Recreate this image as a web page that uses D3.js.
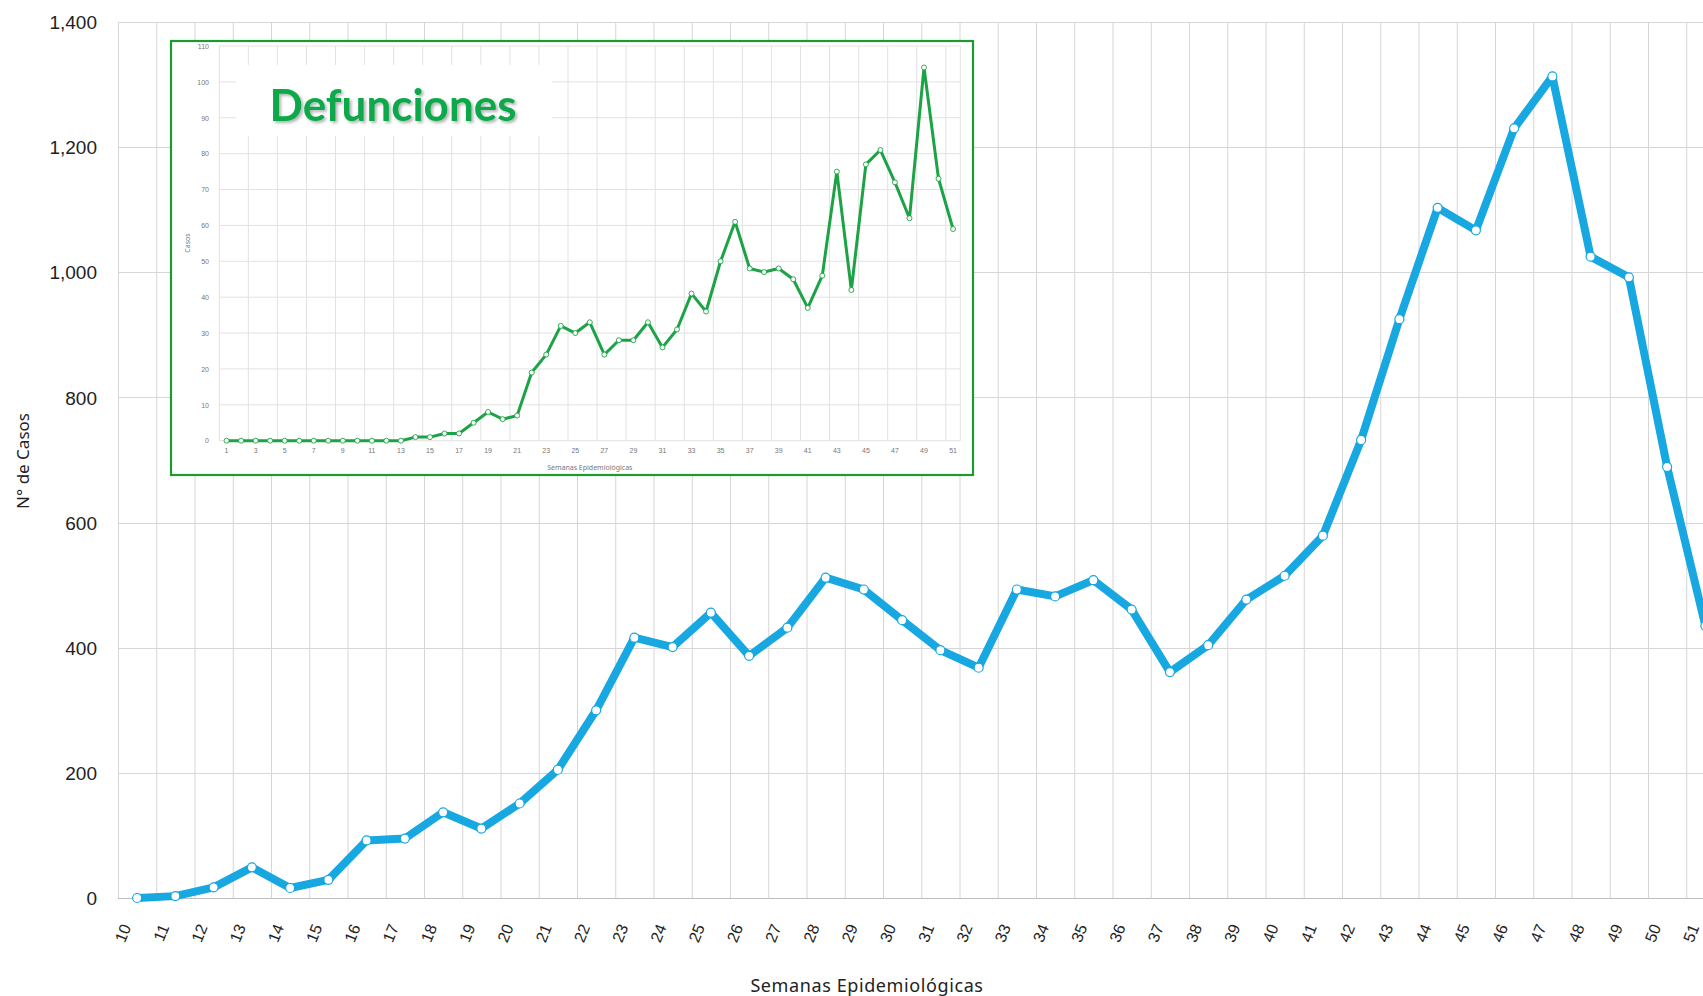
<!DOCTYPE html>
<html>
  <head>
    <meta charset="utf-8">
    <title>Casos y defunciones por semana epidemiológica</title>
    <script src="https://d3js.org/d3.v7.min.js"></script>
    <style>
      body { margin: 0; background: #fff; }
      svg { display: block; font-family: "Noto Sans", sans-serif; }
      .grid line { stroke: #d6d6d6; stroke-width: 1; }
      .mainTick { font-size: 19px; fill: #222; }
      .insetTick { font-size: 7px; fill: #777; }
    </style>
  </head>
  <body>
    <svg id="chart" width="1703" height="996"></svg>
    <script>
      // main chart: cases per epidemiological week
      weeks = ["10", "11", "12", "13", "14", "15", "16", "17", "18", "19", "20", "21", "22", "23", "24", "25", "26", "27", "28", "29", "30",
        "31", "32", "33", "34", "35", "36", "37", "38", "39", "40", "41", "42", "43", "44", "45", "46", "47", "48", "49", "50", "51"];
      cases = [0, 3, 17, 49, 16, 29, 92, 95, 137, 111, 151, 205, 300, 416, 401, 456, 387, 432, 512, 493, 444,
        396, 368, 493, 482, 508, 461, 361, 404, 477, 515, 579, 732, 925, 1103, 1067, 1230, 1313, 1025, 992, 689, 435];
      caseTicks = [0, 200, 400, 600, 800, 1000, 1200, 1400];
      // inset: deaths
      deathWeeks = ["1", "2", "3", "4", "5", "6", "7", "8", "9", "10", "11", "12", "13", "14", "15", "16", "17", "18", "19", "20",
        "21", "22", "23", "24", "25", "26", "27", "28", "29", "30", "31", "32", "33", "34", "35", "36", "37", "38", "39", "40",
        "41", "42", "43", "44", "45", "46", "47", "48", "49", "50", "51"];
      deaths = [0, 0, 0, 0, 0, 0, 0, 0, 0, 0, 0, 0, 0, 1, 1, 2, 2, 5, 8, 6,
        7, 19, 24, 32, 30, 33, 24, 28, 28, 33, 26, 31, 41, 36, 50, 61, 48, 47, 48, 45,
        37, 46, 75, 42, 77, 81, 72, 62, 104, 73, 59];
      deathTicks = [0, 10, 20, 30, 40, 50, 60, 70, 80, 90, 100, 110];
      deathLabels = ["1", "3", "5", "7", "9", "11", "13", "15", "17", "19", "21", "23", "25", "27", "29", "31", "33", "35", "37", "39",
        "41", "43", "45", "47", "49", "51"];

      svg = d3.select("#chart");

      // ---- main chart ----
      x = d3.scaleBand()
        .domain(weeks)
        .range([118, 118 + 42 * 38.25]);
      y = d3.scaleLinear()
        .domain([0, 1400])
        .range([898, 22]);

      grid = svg.append("g").classed("grid", true);
      // vertical lines on category boundaries
      grid.selectAll(".v")
          .data(weeks)
        .enter().append("line")
          .attr("x1", function(d) { return x(d) + 0.5; })
          .attr("x2", function(d) { return x(d) + 0.5; })
          .attr("y1", y(1400))
          .attr("y2", y(0));
      grid.selectAll(".h")
          .data(caseTicks)
        .enter().append("line")
          .attr("x1", x.range()[0])
          .attr("x2", x.range()[1])
          .attr("y1", function(d) { return Math.round(y(d)) + 0.5; })
          .attr("y2", function(d) { return Math.round(y(d)) + 0.5; })
          .style("stroke", function(d) { return d == 0 ? "#bdbdbd" : null; });

      yAxis = svg.append("g")
        .attr("transform", "translate(100, 0)")
        .call(d3.axisLeft(y).tickValues(caseTicks).tickFormat(d3.format(",")).tickSize(0));
      yAxis.select(".domain").remove();
      yAxis.selectAll("text").classed("mainTick", true).attr("dy", "0.35em").attr("font-family", null).attr("font-size", null);

      xAxis = svg.append("g")
        .attr("transform", "translate(0, 925)")
        .call(d3.axisBottom(x).tickSize(0));
      xAxis.select(".domain").remove();
      xAxis.selectAll("text")
        .classed("mainTick", true)
        .attr("font-family", null).attr("font-size", null)
        .attr("y", 0)
        .attr("x", 0)
        .attr("dy", "0.35em")
        .style("text-anchor", "end")
        .style("font-size", "16px")
        .attr("transform", "translate(-11, 0) rotate(-68)");

      svg.append("text")
        .attr("x", 867)
        .attr("y", 992)
        .attr("text-anchor", "middle")
        .style("font-size", "18px")
        .style("letter-spacing", "0.6px")
        .style("fill", "#222")
        .text("Semanas Epidemiológicas");
      svg.append("text")
        .attr("transform", "translate(29, 461) rotate(-90)")
        .attr("text-anchor", "middle")
        .style("font-size", "17px")
        .style("fill", "#222")
        .text("N° de Casos");

      line = d3.line()
        .x(function(d, i) { return x(weeks[i]) + x.bandwidth() / 2; })
        .y(function(d) { return y(d); });
      svg.append("path")
        .datum(cases)
        .attr("d", line)
        .style("fill", "none")
        .style("stroke", "#17a7e1")
        .style("stroke-width", 8)
        .style("stroke-linejoin", "round");
      svg.selectAll(".casePoint")
          .data(cases)
        .enter().append("circle")
          .attr("cx", function(d, i) { return x(weeks[i]) + x.bandwidth() / 2; })
          .attr("cy", function(d) { return y(d); })
          .attr("r", 4.5)
          .style("fill", "#fff")
          .style("stroke", "#17a7e1")
          .style("stroke-width", 1.2);

      // ---- inset ----
      inset = svg.append("g");
      inset.append("rect")
        .attr("x", 171)
        .attr("y", 41)
        .attr("width", 802)
        .attr("height", 434)
        .style("fill", "#fff")
        .style("stroke", "#1c9a2e")
        .style("stroke-width", 2.2);

      ix = d3.scaleBand()
        .domain(deathWeeks)
        .range([219.3, 219.3 + 51 * 14.53]);
      iy = d3.scaleLinear()
        .domain([0, 110])
        .range([440.7, 46]);

      igrid = inset.append("g").classed("grid", true);
      igrid.selectAll(".v")
          .data(deathWeeks.filter(function(d, i) { return i % 2 == 0; }).concat(["end"]))
        .enter().append("line")
          .attr("x1", function(d) { return d == "end" ? ix.range()[1] : ix(d); })
          .attr("x2", function(d) { return d == "end" ? ix.range()[1] : ix(d); })
          .attr("y1", iy(110))
          .attr("y2", iy(0))
          .style("stroke", "#e2e2e2");
      igrid.selectAll(".h")
          .data(deathTicks)
        .enter().append("line")
          .attr("x1", ix.range()[0])
          .attr("x2", ix.range()[1])
          .attr("y1", function(d) { return iy(d); })
          .attr("y2", function(d) { return iy(d); })
          .style("stroke", "#e2e2e2");

      iyAxis = inset.append("g")
        .attr("transform", "translate(212, 0)")
        .call(d3.axisLeft(iy).tickValues(deathTicks).tickSize(0));
      iyAxis.select(".domain").remove();
      iyAxis.selectAll("text").classed("insetTick", true).attr("font-family", null).attr("font-size", null);

      ixAxis = inset.append("g")
        .attr("transform", "translate(0, 448)")
        .call(d3.axisBottom(ix).tickValues(deathLabels).tickSize(0));
      ixAxis.select(".domain").remove();
      ixAxis.selectAll("text").classed("insetTick", true).attr("font-family", null).attr("font-size", null).attr("y", 0);

      inset.append("text")
        .attr("x", (ix.range()[0] + ix.range()[1]) / 2)
        .attr("y", 470)
        .attr("text-anchor", "middle")
        .style("font-size", "7px")
        .style("fill", "#777")
        .text("Semanas Epidemiológicas");
      inset.append("text")
        .attr("transform", "translate(190, 243) rotate(-90)")
        .attr("text-anchor", "middle")
        .style("font-size", "7px")
        .style("fill", "#777")
        .text("Casos");

      iline = d3.line()
        .x(function(d, i) { return ix(deathWeeks[i]) + ix.bandwidth() / 2; })
        .y(function(d) { return iy(d); });
      inset.append("path")
        .datum(deaths)
        .attr("d", iline)
        .style("fill", "none")
        .style("stroke", "#1ba345")
        .style("stroke-width", 3)
        .style("stroke-linejoin", "round");
      inset.selectAll(".deathPoint")
          .data(deaths)
        .enter().append("circle")
          .attr("cx", function(d, i) { return ix(deathWeeks[i]) + ix.bandwidth() / 2; })
          .attr("cy", function(d) { return iy(d); })
          .attr("r", 2.5)
          .style("fill", "#fff")
          .style("stroke", "#1ba345")
          .style("stroke-width", 0.9);

      // title box
      inset.append("rect")
        .attr("x", 236)
        .attr("y", 65)
        .attr("width", 316)
        .attr("height", 71)
        .style("fill", "#fff");
      defs = svg.append("defs");
      defs.append("filter")
        .attr("id", "shadow")
        .append("feDropShadow")
          .attr("dx", 2)
          .attr("dy", 2)
          .attr("stdDeviation", 1.5)
          .attr("flood-color", "#000")
          .attr("flood-opacity", 0.3);
      inset.append("text")
        .attr("x", 393)
        .attr("y", 121)
        .attr("text-anchor", "middle")
        .attr("filter", "url(#shadow)")
        .style("font-family", "Lato, sans-serif")
        .style("font-weight", "bold")
        .style("font-size", "44px")
        .style("fill", "#0fa84a")
        .text("Defunciones");
    </script>
  </body>
</html>
